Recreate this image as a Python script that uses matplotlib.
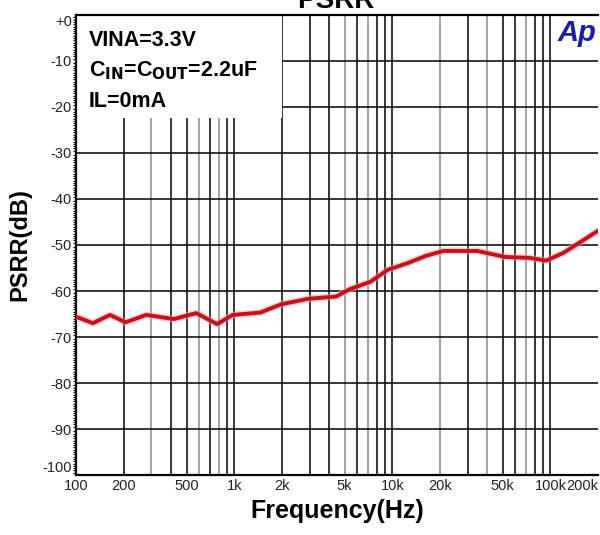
import numpy as np
import matplotlib
matplotlib.use('Agg')
import matplotlib.pyplot as plt
from matplotlib.ticker import FixedLocator, MultipleLocator, NullLocator

# PSRR curve (frequency in Hz, PSRR in dB)
freq = [100, 128, 164, 206, 278, 416, 576, 781, 978, 1460, 1980, 2940,
        4420, 5390, 7260, 9360, 12600, 16200, 20970, 34500, 51800, 73800,
        94000, 121000, 180000, 200000]
psrr = [-65.6, -67.0, -65.2, -66.8, -65.2, -66.1, -64.8, -67.2, -65.2,
        -64.7, -62.9, -61.7, -61.2, -59.6, -58.0, -55.4, -53.9, -52.4,
        -51.3, -51.3, -52.6, -52.8, -53.4, -51.7, -47.9, -46.9]

xtick_vals = [100, 200, 500, 1000, 2000, 5000, 10000, 20000, 50000, 100000, 200000]
xtick_labels = ['100', '200', '500', '1k', '2k', '5k', '10k', '20k', '50k', '100k', '200k']
ytick_vals = [0, -10, -20, -30, -40, -50, -60, -70, -80, -90, -100]
ytick_labels = ['+0', '-10', '-20', '-30', '-40', '-50', '-60', '-70', '-80', '-90', '-100']

# vertical grid lines, some print darker than others in the scan
grid_black = [200, 400, 500, 700, 900, 1000, 2000, 3000, 4000, 6000, 8000,
              9000, 10000, 30000, 50000, 60000, 80000, 90000, 100000]
grid_gray = [300, 600, 800, 5000, 7000, 20000, 40000, 70000]

plt.rcParams['font.family'] = ['Liberation Sans', 'DejaVu Sans']

fig = plt.figure(figsize=(6, 5.35), dpi=100)
ax = fig.add_axes([76 / 600, 60 / 535, 522 / 600, 460 / 535])

ax.set_xscale('log')
ax.set_xlim(100, 200000)
ax.set_ylim(-100, 0)

for f in grid_black:
    ax.axvline(f, color='black', lw=1.1, zorder=1)
for f in grid_gray:
    ax.axvline(f, color='#8c8c8c', lw=1.1, zorder=1)
for v in ytick_vals[1:-1]:
    ax.axhline(v, color='black', lw=1.1, zorder=1)

ax.plot(freq, psrr, color='#f4a0a0', lw=5, alpha=0.5, zorder=3, solid_capstyle='round')
ax.plot(freq, psrr, color='#c8101c', lw=2.8, zorder=4, solid_capstyle='round')

ax.xaxis.set_major_locator(FixedLocator(xtick_vals))
ax.xaxis.set_minor_locator(NullLocator())
ax.set_xticklabels(xtick_labels, fontsize=10.5, color='#222222')
ax.set_yticks(ytick_vals)
ax.set_yticklabels(ytick_labels, fontsize=10.5, color='#222222')
ax.yaxis.set_minor_locator(MultipleLocator(0.5))
ax.tick_params(axis='both', which='major', length=0, pad=3)
ax.tick_params(axis='y', which='minor', length=2, width=0.8, direction='out')
ax.get_xticklabels()[-1].set_horizontalalignment('right')
ax.get_yticklabels()[-1].set_verticalalignment('bottom')
ax.get_yticklabels()[0].set_verticalalignment('top')

for s in ['left', 'bottom', 'top']:
    ax.spines[s].set_linewidth(1.6)
ax.spines['right'].set_visible(False)

# white panel behind the conditions text
ax.add_patch(plt.Rectangle((0, 0.776), 0.395, 0.224, transform=ax.transAxes,
                           facecolor='white', edgecolor='none', zorder=2))
ax.text(0.025, 0.945, 'VINA=3.3V', transform=ax.transAxes, fontsize=15.5,
        fontweight='bold', va='center', zorder=5)
ax.text(0.025, 0.878, r'C$_{\mathbf{IN}}$=C$_{\mathbf{OUT}}$=2.2uF', transform=ax.transAxes,
        fontsize=15.5, fontweight='bold', va='center', zorder=5)
ax.text(0.025, 0.812, 'IL=0mA', transform=ax.transAxes, fontsize=15.5,
        fontweight='bold', va='center', zorder=5)

# logo in the corner
ax.add_patch(plt.Rectangle((0.915, 0.92), 0.085, 0.08, transform=ax.transAxes,
                           facecolor='white', edgecolor='none', zorder=2))
ax.text(0.997, 0.96, 'Ap', transform=ax.transAxes, fontsize=21, fontweight='heavy',
        fontstyle='italic', color='#1a1ab4', ha='right', va='center', zorder=5)

ax.set_xlabel('Frequency(Hz)', fontsize=18, fontweight='bold', labelpad=4)
ax.set_ylabel('PSRR(dB)', fontsize=17, fontweight='bold', labelpad=8)

fig.text(0.56, 0.985, 'PSRR', fontsize=20, fontweight='bold', ha='center', va='baseline')

fig.savefig('out.png', dpi=100)
